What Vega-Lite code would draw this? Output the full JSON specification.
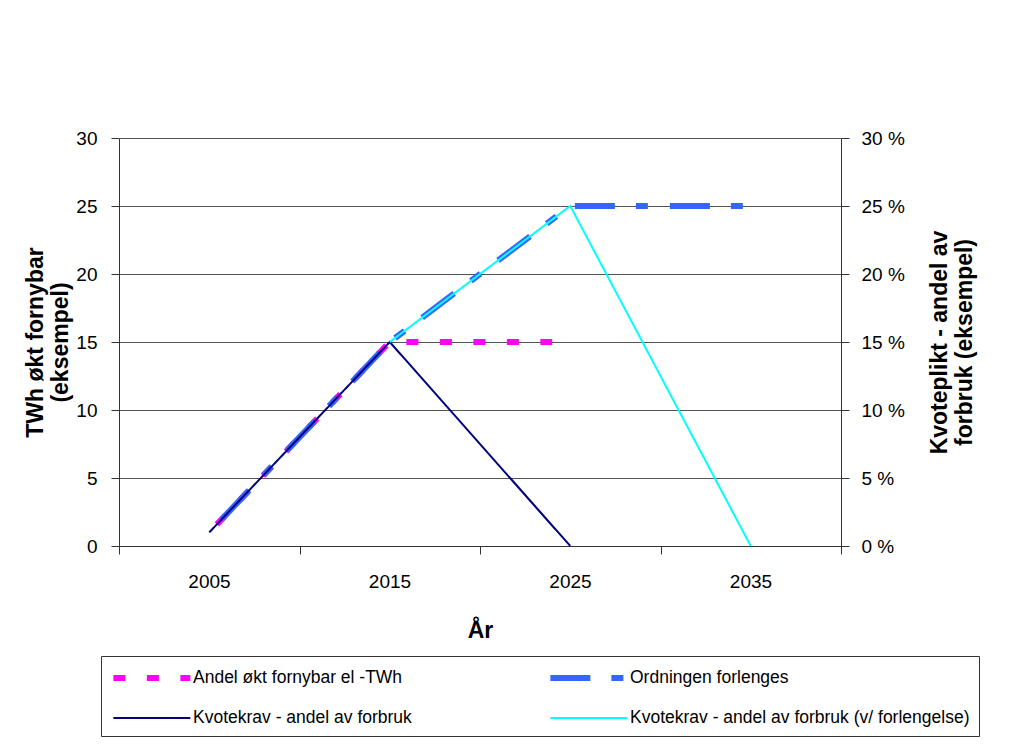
{
  "$schema": "https://vega.github.io/schema/vega-lite/v6.json",
  "width": 722,
  "height": 408,
  "autosize": {"type": "none"},
  "padding": {"left": 119, "top": 138, "right": 193, "bottom": 198},
  "background": "white",
  "config": {
    "font": "Liberation Sans",
    "view": {"stroke": null},
    "axis": {
      "labelFont": "Liberation Sans",
      "titleFont": "Liberation Sans",
      "labelColor": "#000",
      "titleColor": "#000",
      "domainColor": "#333",
      "tickColor": "#333",
      "gridColor": "#555",
      "labelFontSize": 19,
      "titleFontSize": 23,
      "titleFontWeight": "bold",
      "tickSize": 8
    }
  },
  "datasets": {
    "series": [
      {"series": "Andel økt fornybar el -TWh", "year": 2005, "value": 1},
      {"series": "Andel økt fornybar el -TWh", "year": 2015, "value": 15},
      {"series": "Andel økt fornybar el -TWh", "year": 2024, "value": 15},
      {"series": "Ordningen forlenges", "year": 2005, "value": 1},
      {"series": "Ordningen forlenges", "year": 2015, "value": 15},
      {"series": "Ordningen forlenges", "year": 2025, "value": 25},
      {"series": "Ordningen forlenges", "year": 2035, "value": 25},
      {"series": "Kvotekrav - andel av forbruk", "year": 2005, "value": 1},
      {"series": "Kvotekrav - andel av forbruk", "year": 2015, "value": 15},
      {"series": "Kvotekrav - andel av forbruk", "year": 2025, "value": 0},
      {"series": "Kvotekrav - andel av forbruk (v/ forlengelse)", "year": 2015, "value": 15},
      {"series": "Kvotekrav - andel av forbruk (v/ forlengelse)", "year": 2025, "value": 25},
      {"series": "Kvotekrav - andel av forbruk (v/ forlengelse)", "year": 2035, "value": 0}
    ]
  },
  "data": {"name": "series"},
  "encoding": {
    "x": {
      "field": "year", "type": "quantitative",
      "scale": {"domain": [2000, 2040], "nice": false, "zero": false},
      "axis": {
        "title": "År",
        "values": [2000, 2010, 2020, 2030, 2040],
        "labelExpr": "datum.value < 2040 ? toString(datum.value + 5) : ''",
        "labelOffset": 90,
        "labelPadding": 18,
        "labelFlush": false,
        "labelOverlap": false,
        "labelBound": false,
        "grid": false,
        "titlePadding": 28
      }
    },
    "color": {
      "field": "series", "type": "nominal",
      "scale": {
        "domain": ["Andel økt fornybar el -TWh", "Kvotekrav - andel av forbruk", "Ordningen forlenges", "Kvotekrav - andel av forbruk (v/ forlengelse)"],
        "range": ["#FF00FF", "#000080", "#3366FF", "#00FFFF"]
      },
      "legend": {
        "title": null,
        "orient": "none",
        "legendX": -18,
        "legendY": 518,
        "columns": 2,
        "columnPadding": 126,
        "rowPadding": 17,
        "padding": 9,
        "strokeColor": "#333",
        "fillColor": "white",
        "symbolType": "M-1,0H7",
        "symbolSize": 370,
        "labelFont": "Liberation Sans",
        "labelFontSize": 17.5,
        "labelOffset": 57,
        "labelLimit": 0,
        "labelColor": "#000"
      }
    },
    "strokeDash": {
      "field": "series", "type": "nominal",
      "scale": {
        "domain": ["Andel økt fornybar el -TWh", "Kvotekrav - andel av forbruk", "Ordningen forlenges", "Kvotekrav - andel av forbruk (v/ forlengelse)"],
        "range": [[12, 21.5], [1, 0], [40, 21, 12, 22], [1, 0]]
      }
    },
    "strokeWidth": {
      "field": "series", "type": "nominal",
      "scale": {
        "type": "ordinal",
        "domain": ["Andel økt fornybar el -TWh", "Kvotekrav - andel av forbruk", "Ordningen forlenges", "Kvotekrav - andel av forbruk (v/ forlengelse)"],
        "range": [6, 2, 6, 2]
      }
    }
  },
  "layer": [
    {
      "encoding": {
        "y": {
          "field": "value", "type": "quantitative",
          "scale": {"domain": [0, 30], "nice": false},
          "axis": {
            "title": ["TWh økt fornybar", "(eksempel)"],
            "values": [0, 5, 10, 15, 20, 25, 30],
            "grid": true,
            "labelPadding": 14,
            "titlePadding": 3
          }
        }
      },
      "layer": [
        {
          "transform": [{"filter": {"field": "series", "equal": "Andel økt fornybar el -TWh"}}],
          "mark": {"type": "line", "strokeCap": "butt", "strokeDashOffset": 22.5}
        },
        {
          "transform": [{"filter": {"field": "series", "equal": "Ordningen forlenges"}}],
          "mark": {"type": "line", "strokeCap": "butt", "strokeDashOffset": 77}
        }
      ]
    },
    {
      "encoding": {
        "y": {
          "field": "value", "type": "quantitative",
          "scale": {"domain": [0, 30], "nice": false},
          "axis": {
            "orient": "right",
            "title": ["Kvoteplikt - andel av", "forbruk (eksempel)"],
            "titleAngle": 270,
            "values": [0, 5, 10, 15, 20, 25, 30],
            "labelExpr": "datum.value + ' %'",
            "grid": false,
            "labelPadding": 12,
            "titlePadding": 22
          }
        }
      },
      "layer": [
        {
          "transform": [{"filter": {"field": "series", "equal": "Kvotekrav - andel av forbruk"}}],
          "mark": {"type": "line", "strokeCap": "butt"}
        },
        {
          "transform": [{"filter": {"field": "series", "equal": "Kvotekrav - andel av forbruk (v/ forlengelse)"}}],
          "mark": {"type": "line", "strokeCap": "butt"}
        }
      ]
    }
  ],
  "resolve": {"scale": {"y": "independent"}}
}
